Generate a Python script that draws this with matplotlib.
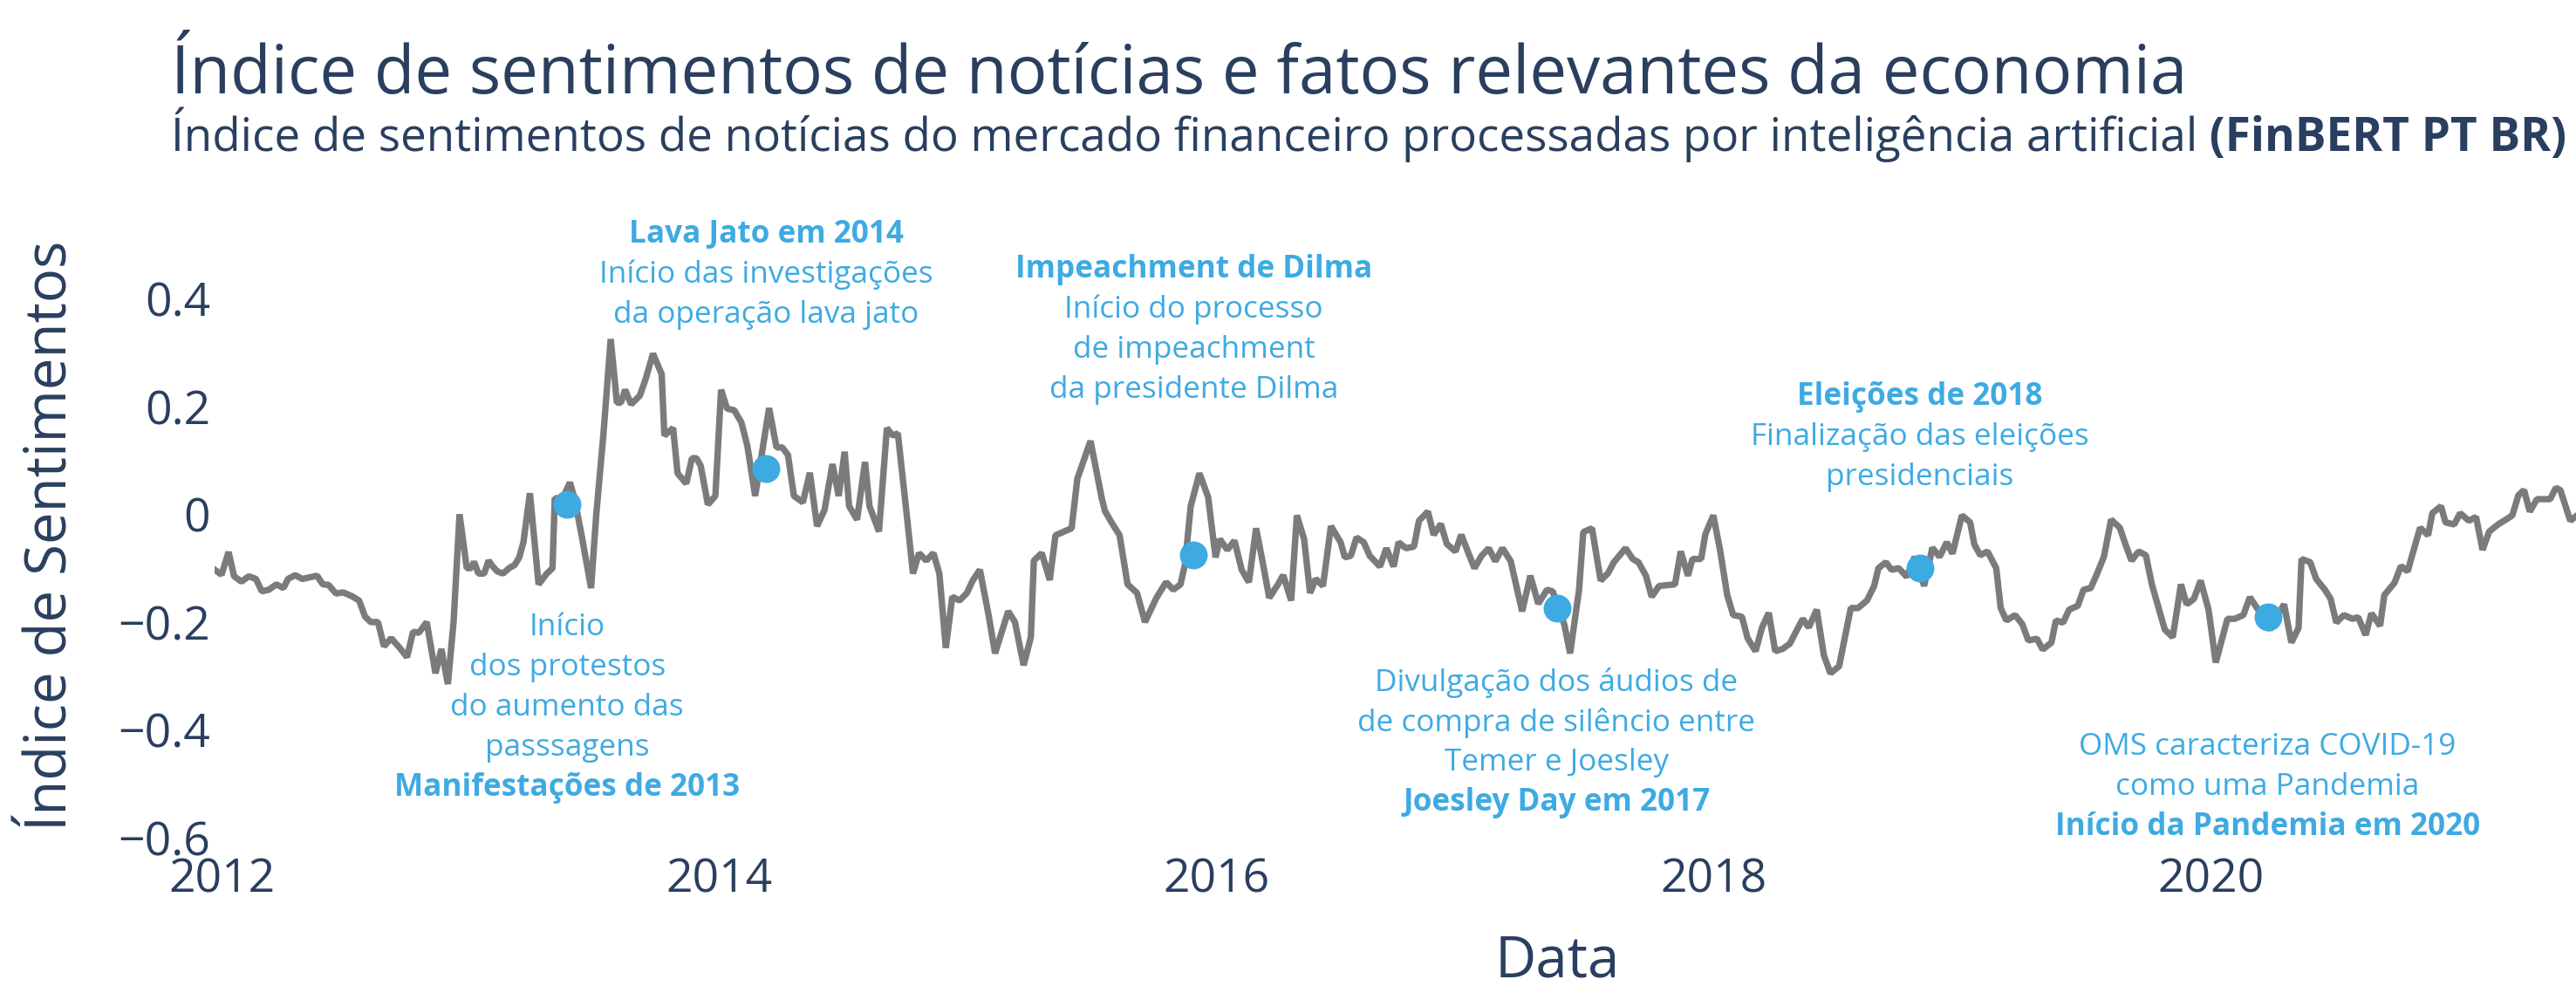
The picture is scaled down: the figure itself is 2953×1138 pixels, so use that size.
import matplotlib
matplotlib.use("Agg")
import matplotlib.pyplot as plt
import numpy as np

# sentiment index (date as fractional year, value)
dates = [
    2011.975, 2012.000, 2012.028, 2012.050, 2012.080, 2012.109, 2012.138, 2012.162, 2012.190, 2012.220,
    2012.249, 2012.267, 2012.296, 2012.325, 2012.384, 2012.407, 2012.430, 2012.460, 2012.489, 2012.524,
    2012.553, 2012.577, 2012.600, 2012.629, 2012.653, 2012.682, 2012.711, 2012.746, 2012.770, 2012.793,
    2012.825, 2012.860, 2012.884, 2012.910, 2012.933, 2012.957, 2012.986, 2013.004, 2013.015, 2013.033,
    2013.056, 2013.074, 2013.091, 2013.109, 2013.132, 2013.156, 2013.179, 2013.197, 2013.214, 2013.240,
    2013.275, 2013.308, 2013.331, 2013.340, 2013.370, 2013.401, 2013.419, 2013.448, 2013.486, 2013.507,
    2013.536, 2013.565, 2013.590, 2013.606, 2013.623, 2013.647, 2013.682, 2013.705, 2013.735, 2013.770,
    2013.781, 2013.816, 2013.834, 2013.869, 2013.892, 2013.910, 2013.927, 2013.956, 2013.986, 2014.009,
    2014.033, 2014.062, 2014.091, 2014.115, 2014.146, 2014.202, 2014.232, 2014.255, 2014.278, 2014.302,
    2014.338, 2014.366, 2014.395, 2014.425, 2014.457, 2014.482, 2014.506, 2014.524, 2014.556, 2014.588,
    2014.606, 2014.644, 2014.676, 2014.699, 2014.720, 2014.752, 2014.781, 2014.805, 2014.834, 2014.863,
    2014.887, 2014.913, 2014.939, 2014.968, 2014.998, 2015.021, 2015.050, 2015.085, 2015.111, 2015.164,
    2015.191, 2015.226, 2015.255, 2015.267, 2015.299, 2015.331, 2015.354, 2015.389, 2015.419, 2015.442,
    2015.495, 2015.541, 2015.553, 2015.582, 2015.612, 2015.644, 2015.682, 2015.714, 2015.760, 2015.799,
    2015.828, 2015.857, 2015.875, 2015.898, 2015.933, 2015.968, 2015.998, 2016.015, 2016.045, 2016.074,
    2016.103, 2016.132, 2016.161, 2016.185, 2016.214, 2016.249, 2016.270, 2016.302, 2016.325, 2016.354,
    2016.378, 2016.401, 2016.430, 2016.462, 2016.501, 2016.518, 2016.542, 2016.565, 2016.594, 2016.618,
    2016.659, 2016.685, 2016.714, 2016.734, 2016.764, 2016.796, 2016.816, 2016.852, 2016.875, 2016.904,
    2016.928, 2016.963, 2016.986, 2017.039, 2017.068, 2017.097, 2017.123, 2017.152, 2017.185, 2017.231,
    2017.264, 2017.296, 2017.331, 2017.354, 2017.378, 2017.401, 2017.424, 2017.460, 2017.477, 2017.512,
    2017.547, 2017.577, 2017.600, 2017.647, 2017.676, 2017.699, 2017.729, 2017.752, 2017.782, 2017.846,
    2017.869, 2017.898, 2017.916, 2017.951, 2017.968, 2018.000, 2018.027, 2018.056, 2018.080, 2018.115,
    2018.138, 2018.170, 2018.196, 2018.223, 2018.249, 2018.278, 2018.308, 2018.337, 2018.360, 2018.384,
    2018.416, 2018.445, 2018.471, 2018.506, 2018.553, 2018.582, 2018.618, 2018.647, 2018.664, 2018.694,
    2018.717, 2018.746, 2018.778, 2018.810, 2018.848, 2018.881, 2018.910, 2018.939, 2018.962, 2019.000,
    2019.033, 2019.050, 2019.074, 2019.103, 2019.138, 2019.156, 2019.179, 2019.214, 2019.243, 2019.267,
    2019.302, 2019.325, 2019.360, 2019.378, 2019.407, 2019.431, 2019.466, 2019.489, 2019.518, 2019.541,
    2019.571, 2019.600, 2019.635, 2019.658, 2019.682, 2019.711, 2019.740, 2019.764, 2019.787, 2019.816,
    2019.848, 2019.881, 2019.904, 2019.933, 2019.960, 2019.992, 2020.021, 2020.068, 2020.097, 2020.132,
    2020.158, 2020.196, 2020.238, 2020.296, 2020.325, 2020.354, 2020.366, 2020.401, 2020.425, 2020.460,
    2020.483, 2020.506, 2020.536, 2020.571, 2020.594, 2020.624, 2020.647, 2020.682, 2020.699, 2020.740,
    2020.766, 2020.793, 2020.811, 2020.843, 2020.875, 2020.892, 2020.927, 2020.945, 2020.980, 2021.004,
    2021.039, 2021.068, 2021.094, 2021.121, 2021.156, 2021.191, 2021.214, 2021.238, 2021.261, 2021.284,
    2021.313, 2021.366, 2021.389, 2021.407, 2021.447, 2021.480,
]
sentiment = [
    -0.104, -0.112, -0.070, -0.115, -0.125, -0.115, -0.120, -0.143, -0.140, -0.130,
    -0.137, -0.120, -0.113, -0.120, -0.114, -0.130, -0.131, -0.147, -0.145, -0.152,
    -0.160, -0.190, -0.200, -0.200, -0.245, -0.230, -0.245, -0.265, -0.218, -0.220,
    -0.200, -0.295, -0.250, -0.315, -0.200, 0.000, -0.100, -0.100, -0.088, -0.110,
    -0.110, -0.086, -0.097, -0.106, -0.110, -0.100, -0.094, -0.080, -0.052, 0.039,
    -0.130, -0.110, -0.100, 0.030, 0.028, 0.059, 0.030, -0.039, -0.137, 0.000,
    0.150, 0.325, 0.207, 0.207, 0.231, 0.204, 0.220, 0.250, 0.298, 0.260,
    0.146, 0.160, 0.076, 0.057, 0.104, 0.104, 0.090, 0.018, 0.034, 0.231,
    0.196, 0.193, 0.170, 0.126, 0.034, 0.197, 0.124, 0.124, 0.110, 0.034,
    0.022, 0.077, -0.022, 0.008, 0.093, 0.034, 0.116, 0.015, -0.010, 0.097,
    0.015, -0.032, 0.160, 0.146, 0.150, 0.015, -0.110, -0.072, -0.086, -0.072,
    -0.110, -0.248, -0.153, -0.160, -0.146, -0.123, -0.103, -0.187, -0.258, -0.180,
    -0.200, -0.280, -0.228, -0.086, -0.072, -0.122, -0.039, -0.032, -0.026, 0.066,
    0.136, 0.028, 0.006, -0.017, -0.039, -0.130, -0.146, -0.200, -0.155, -0.126,
    -0.140, -0.130, -0.093, 0.015, 0.076, 0.032, -0.080, -0.046, -0.066, -0.049,
    -0.103, -0.126, -0.026, -0.083, -0.155, -0.130, -0.113, -0.160, -0.002, -0.046,
    -0.146, -0.120, -0.133, -0.022, -0.052, -0.080, -0.077, -0.043, -0.052, -0.077,
    -0.097, -0.063, -0.097, -0.052, -0.063, -0.060, -0.012, 0.005, -0.038, -0.018,
    -0.055, -0.069, -0.038, -0.100, -0.077, -0.063, -0.087, -0.063, -0.087, -0.180,
    -0.114, -0.166, -0.140, -0.143, -0.175, -0.205, -0.258, -0.140, -0.033, -0.026,
    -0.123, -0.109, -0.089, -0.063, -0.083, -0.089, -0.114, -0.153, -0.133, -0.130,
    -0.069, -0.114, -0.083, -0.083, -0.037, -0.002, -0.066, -0.150, -0.187, -0.190,
    -0.230, -0.254, -0.210, -0.183, -0.254, -0.250, -0.240, -0.214, -0.194, -0.210,
    -0.177, -0.262, -0.295, -0.282, -0.174, -0.174, -0.160, -0.133, -0.100, -0.089,
    -0.103, -0.100, -0.116, -0.079, -0.133, -0.062, -0.079, -0.052, -0.073, -0.002,
    -0.015, -0.056, -0.076, -0.069, -0.100, -0.174, -0.197, -0.187, -0.204, -0.234,
    -0.231, -0.251, -0.238, -0.197, -0.201, -0.177, -0.170, -0.140, -0.137, -0.113,
    -0.079, -0.010, -0.025, -0.056, -0.086, -0.069, -0.076, -0.130, -0.167, -0.214,
    -0.228, -0.130, -0.167, -0.157, -0.123, -0.177, -0.275, -0.194, -0.194, -0.187,
    -0.154, -0.180, -0.214, -0.167, -0.238, -0.211, -0.083, -0.089, -0.120, -0.140,
    -0.157, -0.201, -0.187, -0.194, -0.191, -0.224, -0.184, -0.207, -0.150, -0.127,
    -0.096, -0.106, -0.076, -0.025, -0.039, 0.002, 0.015, -0.015, -0.019, 0.002,
    -0.012, -0.005, -0.066, -0.032, -0.019, -0.009, -0.002, 0.035, 0.045, 0.005,
    0.028, 0.028, 0.049, 0.045, -0.012, 0.000,
]

# highlighted events
event_dates = [2013.39, 2014.19, 2015.91, 2017.37, 2018.83, 2020.23]
event_values = [0.018, 0.084, -0.075, -0.175, -0.100, -0.190]
event_titles = [
    "Manifestações de 2013",
    "Lava Jato em 2014",
    "Impeachment de Dilma",
    "Joesley Day em 2017",
    "Eleições de 2018",
    "Início da Pandemia em 2020",
]
event_texts = [
    ["Início", "dos protestos", "do aumento das", "passsagens"],
    ["Início das investigações", "da operação lava jato"],
    ["Início do processo", "de impeachment", "da presidente Dilma"],
    ["Divulgação dos áudios de", "de compra de silêncio entre", "Temer e Joesley"],
    ["Finalização das eleições", "presidenciais"],
    ["OMS caracteriza COVID-19", "como uma Pandemia"],
]
# first text line (data y) and whether the bold title goes on top
event_text_y = [-0.210, 0.519, 0.454, -0.312, 0.218, -0.431]
event_title_on_top = [False, True, True, False, True, False]

navy = "#2a3f5f"
blue = "#3eaae2"
grey = "#7b7a7d"
font = "Open Sans"

fig = plt.figure(figsize=(29.53, 11.38), dpi=100)
ax = fig.add_axes([245.5 / 2953, 178 / 1138, 1 - 245.5 / 2953, (960 - 280.5) / 1138])

ax.plot(dates, sentiment, color=grey, lw=5.3, solid_joinstyle="bevel", zorder=2)
ax.plot(event_dates, event_values, "o", color=blue, ms=23, mew=0, zorder=3)

step = 0.0745
for x, title, lines, y0, top in zip(event_dates, event_titles, event_texts,
                                    event_text_y, event_title_on_top):
    rows = [(title, "bold")] + [(l, "normal") for l in lines] if top \
        else [(l, "normal") for l in lines] + [(title, "bold")]
    for i, (txt, w) in enumerate(rows):
        ax.text(x, y0 - i * step, txt, color=blue, fontsize=25.3, fontweight=w,
                family=font, ha="center", va="center", clip_on=False)

ax.set_xlim(2011.97, 2021.47)
ax.set_ylim(-0.6, 0.5)
ax.set_xticks([2012, 2014, 2016, 2018, 2020])
ax.set_xticklabels(["2012", "2014", "2016", "2018", "2020"])
yt = [-0.6, -0.4, -0.2, 0, 0.2, 0.4]
ax.set_yticks(yt)
ax.set_yticklabels([f"{v:g}".replace("-", "\u2212") for v in yt])
for s in ax.spines.values():
    s.set_visible(False)
ax.tick_params(length=0, labelsize=38.5, labelcolor=navy)
ax.tick_params(axis="x", pad=16)
ax.tick_params(axis="y", pad=3)
for lab in ax.get_xticklabels() + ax.get_yticklabels():
    lab.set_family(font)

fig.text(60 / 2953, 1 - 614 / 1138, "Índice de Sentimentos", rotation=90,
         fontsize=47, color=navy, family=font, ha="center", va="center")
fig.text(1785 / 2953, 1 - 1102 / 1138, "Data", fontsize=47, color=navy,
         family=font, ha="center", va="center")

fig.text(196 / 2953, 1 - 107 / 1138,
         "Índice de sentimentos de notícias e fatos relevantes da economia",
         fontsize=54.8, color=navy, family=font, ha="left", va="baseline")
sub = fig.text(196 / 2953, 1 - 173 / 1138,
               "Índice de sentimentos de notícias do mercado financeiro processadas por inteligência artificial",
               fontsize=38.2, color=navy, family=font, ha="left", va="baseline")
fig.canvas.draw()
bb = sub.get_window_extent()
fig.text(bb.x1 / fig.bbox.width, 1 - 173 / 1138, " (FinBERT PT BR)", fontsize=38.2,
         color=navy, family=font, fontweight="bold", ha="left", va="baseline")

fig.savefig("out.png", dpi=100, facecolor="white")
